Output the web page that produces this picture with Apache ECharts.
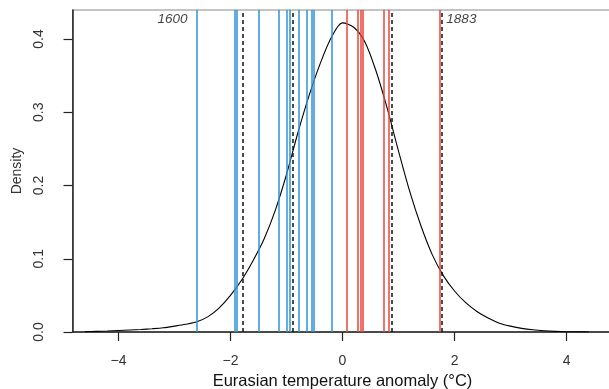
<!DOCTYPE html>
<html><head><meta charset="utf-8">
<script src="https://cdn.jsdelivr.net/npm/echarts@6/dist/echarts.min.js"></script>
<style>html,body{margin:0;padding:0;background:#fff}#c{width:609px;height:389px}</style>
</head><body><div id="c"></div>
<script>
// Density curve sampled every 0.2 (x, density)
const densityX = [-4.6,-4.4,-4.2,-4.0,-3.8,-3.6,-3.4,-3.2,-3.0,-2.8,-2.6,-2.4,-2.2,-2.0,-1.8,-1.6,-1.4,-1.2,-1.0,-0.8,-0.6,-0.4,-0.2,0.0,0.2,0.4,0.6,0.8,1.0,1.2,1.4,1.6,1.8,2.0,2.2,2.4,2.6,2.8,3.0,3.2,3.4,3.6,3.8,4.0,4.2,4.4];
const densityY = [0.0003,0.0008,0.0013,0.002,0.0027,0.0035,0.0045,0.0058,0.008,0.0105,0.014,0.021,0.033,0.050,0.071,0.097,0.127,0.166,0.215,0.271,0.322,0.366,0.402,0.422,0.416,0.396,0.356,0.305,0.247,0.192,0.145,0.106,0.077,0.056,0.040,0.028,0.019,0.012,0.008,0.005,0.003,0.0017,0.0009,0.0004,0.0002,0.0];
// Cold (blue) and warm (red) years' anomalies
const coldValues = [-2.604,-1.925,-1.889,-1.491,-1.143,-0.986,-0.955,-0.777,-0.634,-0.550,-0.514,-0.1875];
const warmValues = [0.080,0.282,0.325,0.371,0.729,0.830,1.729];
// Dashed reference lines (±1 sd, ±2 sd)
const dashedValues = [-1.782,-0.889,0.879,1.768];
// Annotated years
const annotYears = ['1600','1883'];
const annotX = [-2.604,1.729];
const annotY = 0.4266;
const xTicks = [-4,-2,0,2,4];
const yTicks = [0,0.1,0.2,0.3,0.4];

const chart = echarts.init(document.getElementById('c'));
const font = 'Liberation Sans, Arial, Helvetica, sans-serif';
function vlines(vals, color, type){
  return {
    type:'line', data:[], silent:true,
    markLine:{ symbol:'none', silent:true, animation:false,
      label:{show:false},
      lineStyle:{color:color, width:1.5, type:type, opacity:1},
      emphasis:{disabled:true},
      data: vals.map(v=>({xAxis:v}))
    }
  };
}
chart.setOption({
  animation:false,
  grid:{left:72.5, top:10, width:540, bottom:57, show:true, borderColor:'#888', borderWidth:1,
        containLabel:false, outerBoundsMode:'none'},
  xAxis:{type:'value', min:-4.82, max:4.82,
    splitLine:{show:false},
    axisLine:{show:true, onZero:false, lineStyle:{color:'#222', width:1.5}},
    axisTick:{show:true, length:9, inside:false, customValues:xTicks, lineStyle:{color:'#222', width:1.2}},
    axisLabel:{show:true, customValues:xTicks, margin:22.5, fontSize:14, color:'#333', fontFamily:font,
      formatter:v=> (v<0?'\u2212'+Math.abs(v):String(v))},
    name:'Eurasian temperature anomaly (°C)', nameLocation:'middle', nameGap:39,
    nameTextStyle:{fontSize:16.5, color:'#111', fontFamily:font}
  },
  yAxis:{type:'value', min:0, max:0.4396,
    splitLine:{show:false},
    axisLine:{show:true, onZero:false, lineStyle:{color:'#222', width:1.5}},
    axisTick:{show:true, length:9, inside:false, customValues:yTicks, lineStyle:{color:'#222', width:1.2}},
    axisLabel:{show:true, customValues:yTicks, rotate:90, margin:26, fontSize:14, color:'#333', fontFamily:font,
      formatter:v=>v.toFixed(1)},
    name:'Density', nameLocation:'middle', nameGap:40, nameRotate:90,
    nameTextStyle:{fontSize:14, color:'#333', fontFamily:font}
  },
  series:[
    {type:'line', smooth:0.3, symbol:'none', silent:true,
     lineStyle:{color:'#000', width:1.1},
     data: densityX.map((x,i)=>[x, densityY[i]]), z:3},
    vlines(coldValues,'#2e93d9','solid'),
    vlines(warmValues,'#e9443a','solid'),
    vlines(dashedValues,'#111',[4,3]),
    {type:'scatter', symbolSize:0, silent:true,
     data:[[annotX[0],annotY]],
     label:{show:true, position:'left', distance:9, formatter:()=>annotYears[0],
       fontStyle:'italic', fontSize:13.5, color:'#111', fontFamily:font}},
    {type:'scatter', symbolSize:0, silent:true,
     data:[[annotX[1],annotY]],
     label:{show:true, position:'right', distance:7, formatter:()=>annotYears[1],
       fontStyle:'italic', fontSize:13.5, color:'#111', fontFamily:font}}
  ]
});
</script></body></html>
